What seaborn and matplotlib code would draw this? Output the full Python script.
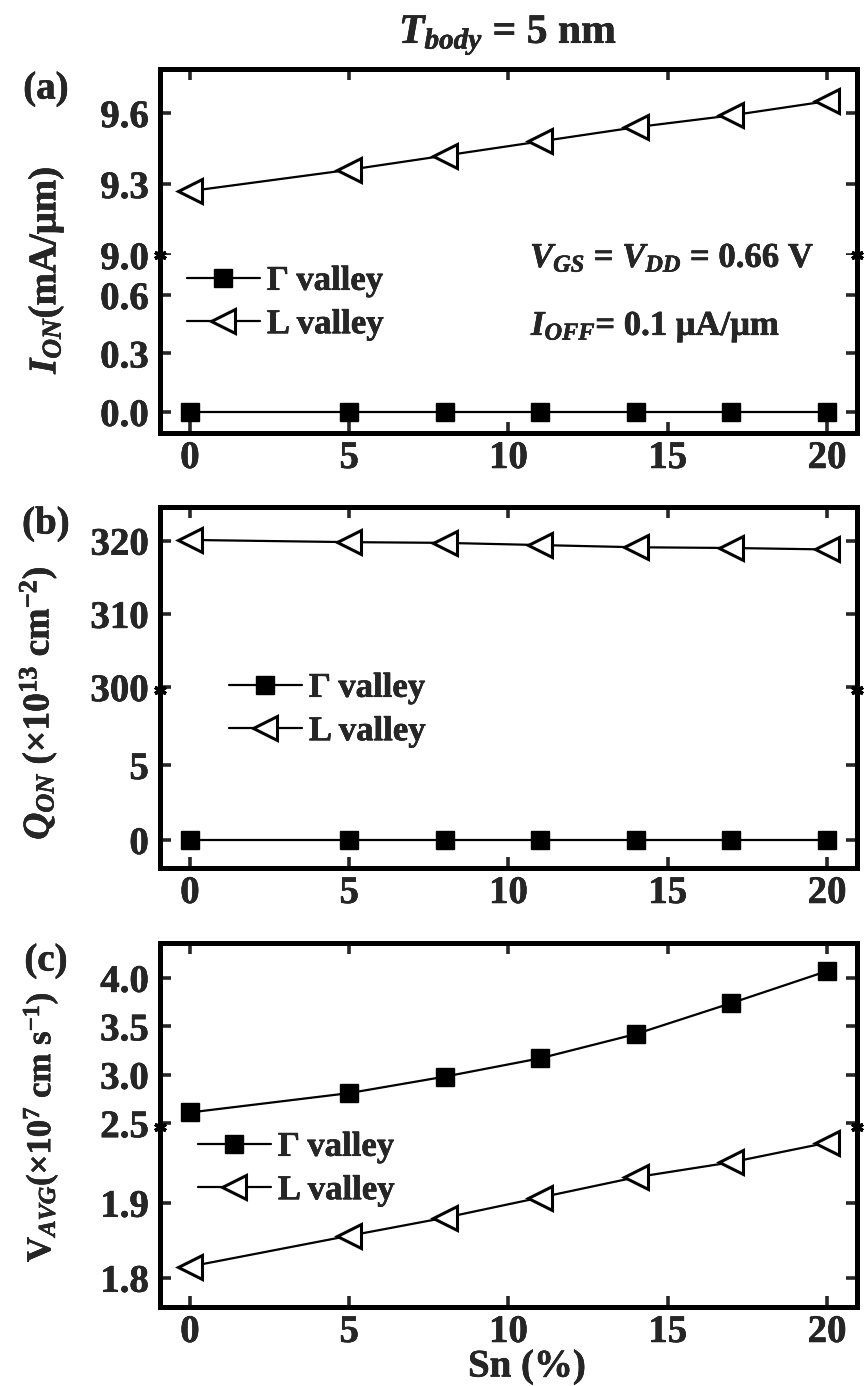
import matplotlib
matplotlib.use("Agg")
import matplotlib.pyplot as plt
import matplotlib.patheffects as pe
import matplotlib.text as mtext
import seaborn as sns
from matplotlib.ticker import FixedLocator, FormatStrFormatter

# Sn content (%) on the shared x axis
sn_pct = [0, 5, 8, 11, 14, 17, 20]

# (a) on-current, mA/um
ion_gamma = [0.0, 0.0, 0.0, 0.0, 0.0, 0.0, 0.0]
ion_l = [9.27, 9.36, 9.42, 9.48, 9.54, 9.59, 9.65]

# (b) on-state charge, x1e13 cm^-2
qon_gamma = [0.0, 0.0, 0.0, 0.0, 0.0, 0.0, 0.0]
qon_l = [320.1, 319.8, 319.7, 319.4, 319.1, 319.0, 318.8]

# (c) average carrier velocity, x1e7 cm/s
vavg_gamma = [2.61, 2.81, 2.98, 3.17, 3.42, 3.74, 4.07]
vavg_l = [1.815, 1.856, 1.880, 1.907, 1.934, 1.954, 1.980]

series_labels = ["\u0393 valley", "L valley"]
x_ticks = [0, 5, 10, 15, 20]

sns.set_style("ticks")
plt.rcParams.update({
    "font.weight": "bold",
    "axes.labelweight": "bold",
    "mathtext.fontset": "custom",
    "mathtext.rm": "Liberation Serif:bold",
    "mathtext.bf": "Liberation Serif:bold",
    "mathtext.it": "Liberation Serif:italic:bold",
    "mathtext.default": "it",
    "axes.linewidth": 3.6,
    "axes.edgecolor": "black",
})
plt.rcParams["font.family"] = ["Liberation Serif", "DejaVu Serif"]

W, H = 864, 1386
fig = plt.figure(figsize=(W / 100, H / 100), dpi=100)

LEFT, RIGHT = 160, 857
TICK_FS = 28
LEG_FS = 25


def fx(px):
    return px / W


def fy(px):
    return 1 - px / H


def draw_series(ax, gamma, lval):
    sns.lineplot(x=sn_pct, y=gamma, ax=ax, color="black", linewidth=1.6,
                 marker="s", markersize=13.5, markerfacecolor="black",
                 markeredgecolor="black", markeredgewidth=1.0,
                 errorbar=None, legend=False, label=series_labels[0])
    sns.lineplot(x=sn_pct, y=lval, ax=ax, color="black", linewidth=1.6,
                 marker="<", markersize=17, markerfacecolor="white",
                 markeredgecolor="black", markeredgewidth=2.2,
                 errorbar=None, legend=False, label=series_labels[1])


def broken_panel(top, brk, bottom, up_lim, lo_lim, up_ticks, lo_ticks, fmt,
                 gamma, lval, leg_x, leg_y):
    width = fx(RIGHT) - fx(LEFT)
    ax_up = fig.add_axes([fx(LEFT), fy(brk), width, (brk - top) / H])
    ax_lo = fig.add_axes([fx(LEFT), fy(bottom), width, (bottom - brk) / H])

    for ax in (ax_up, ax_lo):
        draw_series(ax, gamma, lval)
        ax.set_xlim(-0.94, 20.94)
        ax.xaxis.set_major_locator(FixedLocator(x_ticks))
        ax.set_xlabel("")
        ax.set_ylabel("")
        ax.tick_params(axis="y", which="major", left=True, right=True,
                       direction="in", length=8, width=2.6,
                       labelsize=TICK_FS, pad=8)
        ax.yaxis.set_major_formatter(FormatStrFormatter(fmt))
        for s in ax.spines.values():
            s.set_linewidth(3.6)

    ax_up.set_ylim(*up_lim)
    ax_lo.set_ylim(*lo_lim)
    ax_up.yaxis.set_major_locator(FixedLocator(up_ticks))
    ax_lo.yaxis.set_major_locator(FixedLocator(lo_ticks))

    ax_up.spines["bottom"].set_visible(False)
    ax_lo.spines["top"].set_visible(False)
    ax_up.tick_params(axis="x", bottom=False, labelbottom=False, top=True,
                      direction="in", length=8, width=2.6)
    ax_lo.tick_params(axis="x", top=False, bottom=True, labelbottom=True,
                      direction="in", length=8, width=2.6,
                      labelsize=TICK_FS, pad=5)

    # break symbols on both vertical spines
    ax_lo.plot([0, 1], [1, 1], transform=ax_lo.transAxes, linestyle="none",
               marker=(6, 2, 0), markersize=9, markeredgewidth=2.5,
               color="black", clip_on=False, zorder=10)

    handles = ax_lo.get_lines()[:2]
    ax_lo.legend(handles, series_labels, loc="center left",
                 bbox_to_anchor=(fx(leg_x), fy(leg_y)),
                 bbox_transform=fig.transFigure, frameon=False,
                 fontsize=LEG_FS, handlelength=2.1, handletextpad=0.2,
                 labelspacing=0.3, borderpad=0, borderaxespad=0)
    return ax_up, ax_lo


# (a) I_ON
broken_panel(69, 255, 433, (9.0, 9.786), (-0.108, 0.805),
             [9.0, 9.3, 9.6], [0.0, 0.3, 0.6], "%.1f",
             ion_gamma, ion_l, 187, 303)
# (b) Q_ON
broken_panel(507, 690, 868, (299.6, 324.6), (-1.87, 10.0),
             [300, 310, 320], [0, 5], "%d",
             qon_gamma, qon_l, 229, 710)
# (c) V_AVG
broken_panel(943, 1127, 1307, (2.46, 4.36), (1.761, 2.001),
             [2.5, 3.0, 3.5, 4.0], [1.8, 1.9], "%.1f",
             vavg_gamma, vavg_l, 198, 1169)

# titles and labels
fig.text(fx(508), fy(35), r"$T_{body}$ = 5 nm", ha="center", va="center",
         fontsize=30)
for lab, y in (("(a)", 89), ("(b)", 524), ("(c)", 961)):
    fig.text(fx(46), fy(y), lab, ha="center", va="center", fontsize=28)

mu = "\u03bc"
times = "\u00d7"
fig.text(fx(46), fy(270), r"$I_{ON}$(mA/" + mu + "m)",
         rotation=90, ha="center", va="center", fontsize=28)
fig.text(fx(38), fy(703), r"$Q_{ON}$ (" + times + r"10$^{13}$ cm$^{-2}$)",
         rotation=90, ha="center", va="center", fontsize=27)
fig.text(fx(40), fy(1127), r"$\mathrm{V}_{AVG}$(" + times + r"10$^{7}$ cm s$^{-1}$)",
         rotation=90, ha="center", va="center", fontsize=25)
fig.text(fx(527), fy(1367), "Sn (%)", ha="center", va="center", fontsize=28)

# bias conditions
fig.text(fx(530), fy(267), r"$V_{GS}$ = $V_{DD}$ = 0.66 V", ha="left",
         va="baseline", fontsize=25)
fig.text(fx(531), fy(335), r"$I_{OFF}$= 0.1 " + mu + "A/" + mu + "m",
         ha="left", va="baseline", fontsize=25)

# slightly heavier glyph strokes for all text
for t in fig.findobj(mtext.Text):
    t.set_path_effects([pe.withStroke(linewidth=0.4, foreground="black")])

fig.savefig("out.png", dpi=100)
